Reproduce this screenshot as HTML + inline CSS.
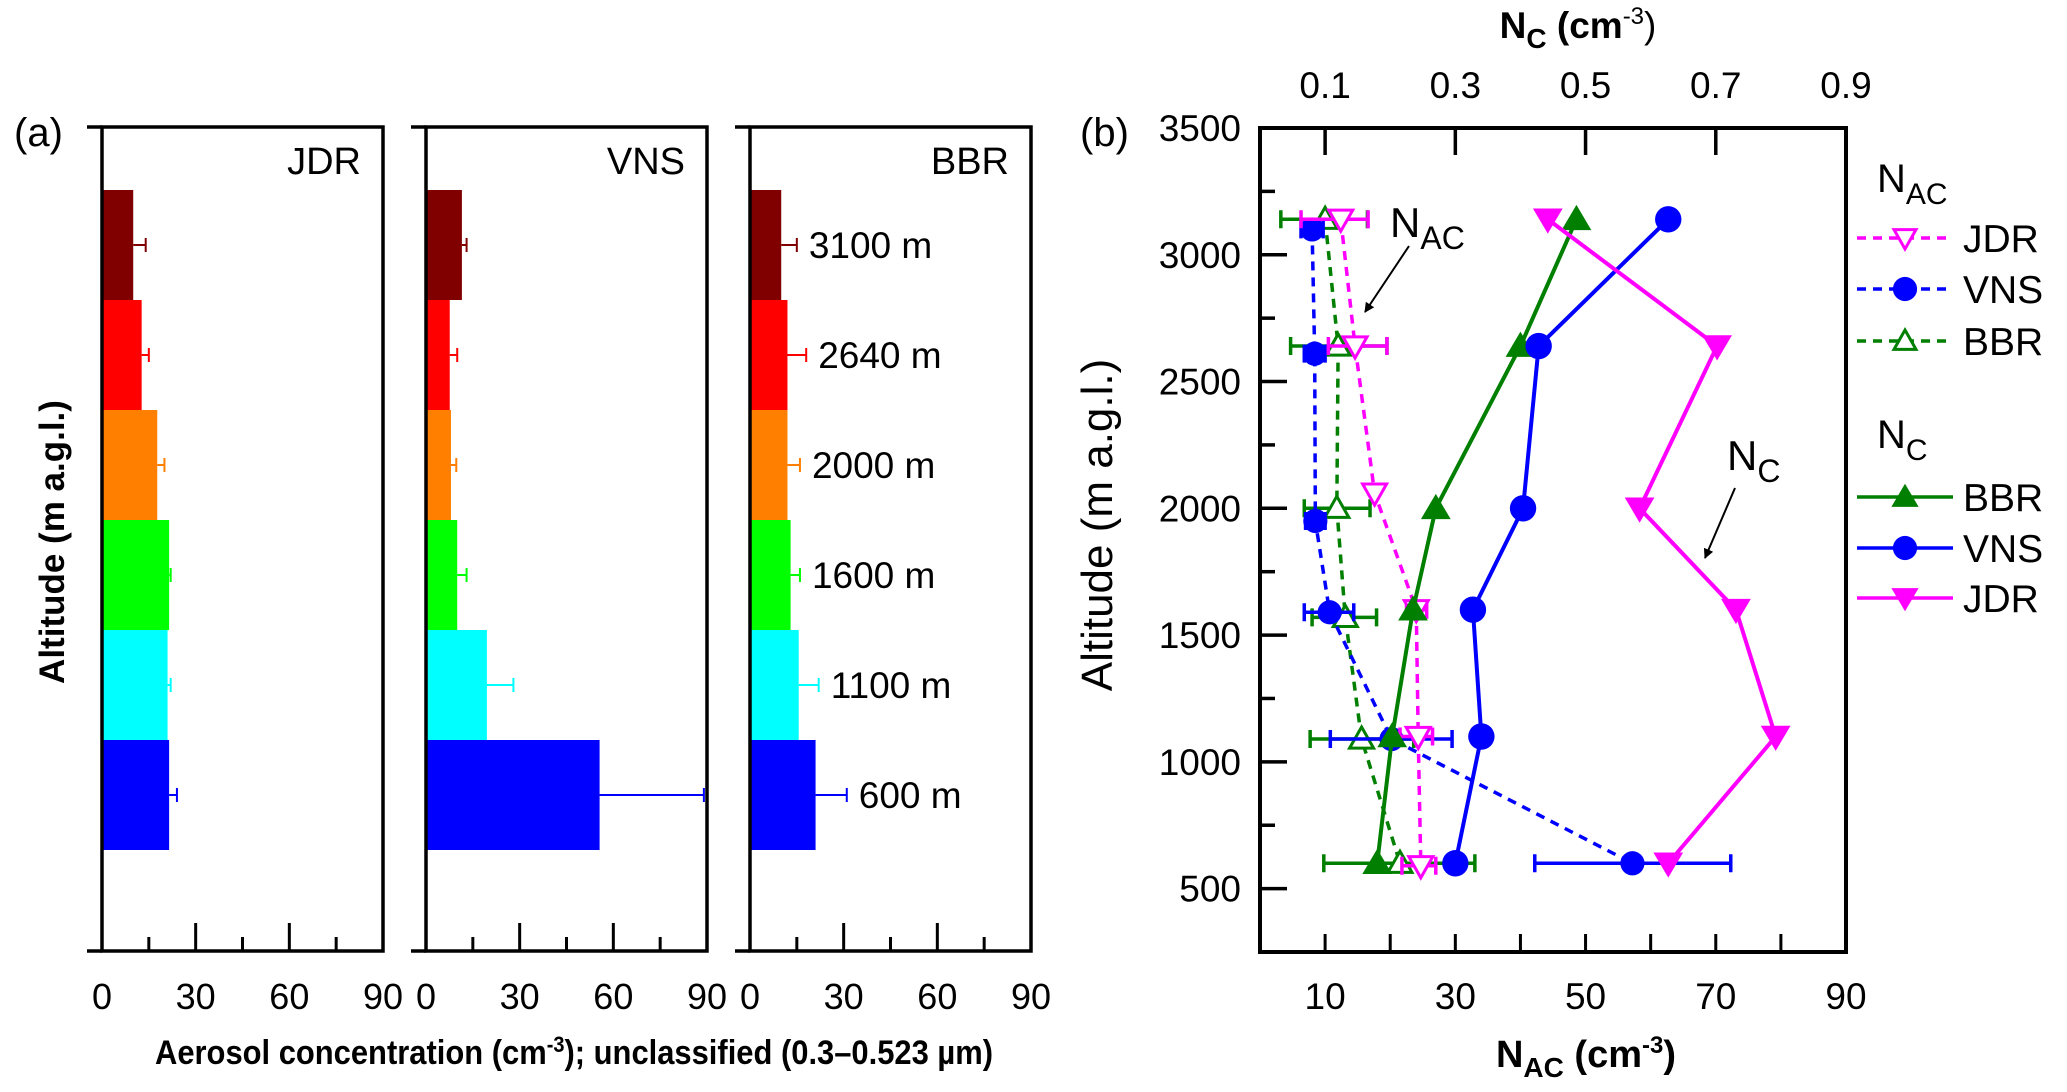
<!DOCTYPE html>
<html><head><meta charset="utf-8"><title>Aerosol concentration charts</title>
<style>
html,body{margin:0;padding:0;background:#fff;}
svg{display:block;font-family:"Liberation Sans",Arial,sans-serif;}
</style></head>
<body>
<svg id="fig" width="2067" height="1092" viewBox="0 0 2067 1092" xmlns="http://www.w3.org/2000/svg">
<defs>
<marker id="arr" markerWidth="10" markerHeight="10" refX="9" refY="5" orient="auto" markerUnits="userSpaceOnUse" viewBox="0 0 10 10"><path d="M0,0 L10,5 L0,10 z" fill="#000"/></marker>
</defs>
<g id="panelA"></g>
<g id="panelB"></g>
</svg>
<script>
// ---------- Panel (a) data ----------
const altCats = ["3100 m","2640 m","2000 m","1600 m","1100 m","600 m"];
const barColors = ["#800000","#ff0000","#ff8000","#00ff00","#00ffff","#0000ff"];
const jdrBars = [10, 12.7, 17.7, 21.5, 21, 21.5];
const jdrErr  = [14, 15, 20, 22, 22, 24];
const vnsBars = [11.5, 7.6, 8, 10, 19.5, 55.6];
const vnsErr  = [13, 10, 9.7, 13, 28, 89];
const bbrBars = [10, 12, 12, 13, 15.6, 21];
const bbrErr  = [15, 18, 16, 16, 22, 31];
const aTicks = [0, 30, 60, 90];

// ---------- Panel (b) data ----------
const bAltTicks = [500,1000,1500,2000,2500,3000,3500];
const bXTicks = [10,30,50,70,90];
const bTopTicks = ["0.1","0.3","0.5","0.7","0.9"];
const nacJdrAlt = [3140,2640,2060,1600,1100,590];
const nacJdrVal = [12.4,14.6,17.6,24,24.3,24.7];
const nacJdrLo  = [6.3,10.5,17.6,22.5,21.5,21.8];
const nacJdrHi  = [16.6,19.5,17.6,25.6,26.5,27];
const nacVnsAlt = [3100,2610,1950,1590,1090,600];
const nacVnsVal = [8,8.4,8.5,10.7,20.2,57.2];
const nacVnsLo  = [6.3,6.8,7,6.8,10.8,42.2];
const nacVnsHi  = [9.7,10,10,14.4,29.5,72.3];
const nacBbrAlt = [3140,2640,2000,1570,1090,600];
const nacBbrVal = [10,12,11.8,13.1,15.6,21.5];
const nacBbrLo  = [3.2,4.7,6.8,8,7.7,9.8];
const nacBbrHi  = [16.5,19.5,16.9,17.9,23.6,33];
const ncAlt = [3140,2640,2000,1600,1100,600];
const ncBbr = [48.6,40,27,23.5,20.3,18];
const ncVns = [62.7,42.8,40.4,32.7,34,30];
const ncJdr = [44.2,70.2,58.3,73.1,79.2,62.7];

const NS="http://www.w3.org/2000/svg";
function mk(parent, tag, attrs, text){
  const e=document.createElementNS(NS,tag);
  for(const k in attrs) e.setAttribute(k,attrs[k]);
  if(text!==undefined) e.textContent=text;
  parent.appendChild(e); return e;
}

// ---------- Panel (a) ----------
const A=document.getElementById('panelA');
const aTop=127, aBot=951, aW=281, barTop0=190, barH=110;
const panels=[{x:102,name:"JDR",vals:jdrBars,err:jdrErr},{x:426,name:"VNS",vals:vnsBars,err:vnsErr},{x:750,name:"BBR",vals:bbrBars,err:bbrErr}];
panels.forEach((p,pi)=>{
  const g=mk(A,'g',{});
  
  
  const xs=v=>p.x+v/90*aW;
  p.vals.forEach((v,i)=>{
    const y=barTop0+i*barH;
    const r=mk(g,'rect',{x:p.x,y:y,width:xs(v)-p.x,height:barH,fill:barColors[i]});
    
    
    const ey=y+barH/2;
    const eb=mk(g,'path',{d:`M${xs(v)},${ey} H${xs(p.err[i])} M${xs(p.err[i])},${ey-7} V${ey+7}`,stroke:barColors[i],'stroke-width':2,fill:'none'});
    
    
    if(pi===2){
      const t=mk(g,'text',{x:xs(p.err[i])+12,y:ey+13,'font-size':37},altCats[i]);
      
      
    }
  });
  const fr=mk(g,'rect',{x:p.x,y:aTop,width:aW,height:aBot-aTop,fill:'none',stroke:'#000','stroke-width':3.5});
  
  
  mk(g,'path',{d:`M${p.x-15},${aTop} H${p.x} M${p.x-15},${aBot} H${p.x}`,stroke:'#000','stroke-width':3.5});
  for(let v=0;v<=90;v+=15){
    const len=(v%30===0)?28:14;
    mk(g,'line',{x1:xs(v),x2:xs(v),y1:aBot,y2:aBot-len,stroke:'#000','stroke-width':3});
  }
  aTicks.forEach(v=>{
    const t=mk(g,'text',{x:xs(v),y:1009,'font-size':36,'text-anchor':'middle'},String(v));
    
    
  });
  const st=mk(g,'text',{x:p.x+aW-22,y:174,'font-size':38,'text-anchor':'end'},p.name);
  
  
});
let t;
t=mk(A,'text',{x:14,y:146,'font-size':40},'(a)');


t=mk(A,'text',{x:0,y:0,'font-size':35,'font-weight':'bold','text-anchor':'middle',transform:'translate(64,542) rotate(-90)'},'Altitude (m a.g.l.)');


t=mk(A,'text',{x:155,y:1064,'font-size':34,'font-weight':'bold',textLength:838,lengthAdjust:'spacingAndGlyphs'});


t.innerHTML='Aerosol concentration (cm<tspan dy="-12" font-size="22">-3</tspan><tspan dy="12">); unclassified (0.3–0.523 µm)</tspan>';

// ---------- Panel (b) ----------
const B=document.getElementById('panelB');
const L=1260,R=1846,T=128,Bt=952;
const bx=v=>L+v/90*(R-L);
const by=a=>Bt-(a-250)/3250*(Bt-T);
for(let a=250;a<=3500;a+=250){
  const len=(a%500===0)?27:15;
  mk(B,'line',{x1:L,x2:L+len,y1:by(a),y2:by(a),stroke:'#000','stroke-width':3.5});
}
for(let v=10;v<=90;v+=10){
  mk(B,'line',{x1:bx(v),x2:bx(v),y1:Bt,y2:Bt-18,stroke:'#000','stroke-width':3});
}
for(let v=10;v<=90;v+=20){
  mk(B,'line',{x1:bx(v),x2:bx(v),y1:T,y2:T+27,stroke:'#000','stroke-width':3.5});
}
bAltTicks.forEach(a=>{
  const e=mk(B,'text',{x:1241,y:by(a)+13,'font-size':37,'text-anchor':'end'},String(a));
  
  
});
bXTicks.forEach(v=>{
  const e=mk(B,'text',{x:bx(v),y:1009,'font-size':37,'text-anchor':'middle'},String(v));
  
  
});
bTopTicks.forEach((s,i)=>{
  const e=mk(B,'text',{x:bx(bXTicks[i]),y:98,'font-size':37,'text-anchor':'middle'},s);
  
  
});

function marker(g,type,x,y,color,s){
  let e;
  if(type==='circle') e=mk(g,'circle',{cx:x,cy:y,r:s*0.55,fill:color});
  else if(type==='up') e=mk(g,'path',{d:`M${x},${y-s*0.6} L${x+s*0.62},${y+s*0.45} L${x-s*0.62},${y+s*0.45} Z`,fill:color});
  else if(type==='down') e=mk(g,'path',{d:`M${x},${y+s*0.6} L${x+s*0.62},${y-s*0.45} L${x-s*0.62},${y-s*0.45} Z`,fill:color});
  else if(type==='upo') e=mk(g,'path',{d:`M${x},${y-s*0.5} L${x+s*0.5},${y+s*0.38} L${x-s*0.5},${y+s*0.38} Z`,fill:'#fff',stroke:color,'stroke-width':3});
  else if(type==='downo') e=mk(g,'path',{d:`M${x},${y+s*0.5} L${x+s*0.5},${y-s*0.38} L${x-s*0.5},${y-s*0.38} Z`,fill:'#fff',stroke:color,'stroke-width':3});
  
  
  return e;
}
function series(name,alts,vals,lo,hi,color,mtype,dashed,ms){
  const g=mk(B,'g',{});
  
  
  const pts=alts.map((a,i)=>bx(vals[i])+','+by(a)).join(' ');
  const pl=mk(g,'polyline',{points:pts,fill:'none',stroke:color,'stroke-width':dashed?3.5:4,'stroke-dasharray':dashed?'9,7':'none'});
  
  
  if(lo){
    alts.forEach((a,i)=>{
      if(hi[i]-lo[i]<0.5) return;
      const y=by(a);
      const eb=mk(g,'path',{d:`M${bx(lo[i])},${y} H${bx(hi[i])} M${bx(lo[i])},${y-9} V${y+9} M${bx(hi[i])},${y-9} V${y+9}`,stroke:color,'stroke-width':3.5,fill:'none'});
      
      
    });
  }
  alts.forEach((a,i)=>marker(g,mtype,bx(vals[i]),by(a),color,ms));
}
series('nac-bbr',nacBbrAlt,nacBbrVal,nacBbrLo,nacBbrHi,'#007f00','upo',true,24);
series('nac-vns',nacVnsAlt,nacVnsVal,nacVnsLo,nacVnsHi,'#0000ff','circle',true,22);
series('nac-jdr',nacJdrAlt,nacJdrVal,nacJdrLo,nacJdrHi,'#ff00ff','downo',true,24);
series('nc-bbr',ncAlt,ncBbr,null,null,'#007f00','up',false,24);
series('nc-vns',ncAlt,ncVns,null,null,'#0000ff','circle',false,24);
series('nc-jdr',ncAlt,ncJdr,null,null,'#ff00ff','down',false,24);

const fb=mk(B,'rect',{x:L,y:T,width:R-L,height:Bt-T,fill:'none',stroke:'#000','stroke-width':4});



t=mk(B,'text',{x:1390,y:237,'font-size':42});
t.innerHTML='N<tspan dy="12" font-size="32">AC</tspan>';


let ar=mk(B,'line',{x1:1409,y1:246,x2:1365,y2:312,stroke:'#000','stroke-width':2,'marker-end':'url(#arr)'});


t=mk(B,'text',{x:1727,y:470,'font-size':42});
t.innerHTML='N<tspan dy="12" font-size="32">C</tspan>';


ar=mk(B,'line',{x1:1735,y1:488,x2:1705,y2:558,stroke:'#000','stroke-width':2,'marker-end':'url(#arr)'});



const leg=mk(B,'g',{});


t=mk(leg,'text',{x:1877,y:192,'font-size':40});
t.innerHTML='N<tspan dy="12" font-size="30">AC</tspan>';


t=mk(leg,'text',{x:1877,y:448,'font-size':40});
t.innerHTML='N<tspan dy="12" font-size="30">C</tspan>';


const legItems=[
 {y:238,label:'JDR',c:'#ff00ff',m:'downo',d:true},
 {y:289,label:'VNS',c:'#0000ff',m:'circle',d:true},
 {y:341,label:'BBR',c:'#007f00',m:'upo',d:true},
 {y:497,label:'BBR',c:'#007f00',m:'up',d:false},
 {y:548,label:'VNS',c:'#0000ff',m:'circle',d:false},
 {y:598,label:'JDR',c:'#ff00ff',m:'down',d:false}];
legItems.forEach(it=>{
  const g=mk(leg,'g',{});
  
  
  mk(g,'line',{x1:1857,x2:1953,y1:it.y,y2:it.y,stroke:it.c,'stroke-width':3.5,'stroke-dasharray':it.d?'9,7':'none'});
  marker(g,it.m,1905,it.y,it.c,22);
  const tt=mk(g,'text',{x:1963,y:it.y+14,'font-size':39},it.label);
  
  
});

t=mk(B,'text',{x:1080,y:146,'font-size':40},'(b)');


t=mk(B,'text',{x:0,y:0,'font-size':44,'text-anchor':'middle',transform:'translate(1112,525) rotate(-90)'},'Altitude (m a.g.l.)');


t=mk(B,'text',{x:1586,y:1067,'font-size':38,'font-weight':'bold','text-anchor':'middle'});
t.innerHTML='N<tspan dy="10" font-size="28">AC</tspan><tspan dy="-10"> (cm</tspan><tspan dy="-14" font-size="24">-3</tspan><tspan dy="14">)</tspan>';


t=mk(B,'text',{x:1578,y:38,'font-size':37,'font-weight':'bold','text-anchor':'middle'});
t.innerHTML='N<tspan dy="10" font-size="28">C</tspan><tspan dy="-10"> (cm</tspan><tspan dy="-14" font-size="24" font-weight="normal">-3</tspan><tspan dy="14" font-weight="normal">)</tspan>';


</script>
</body></html>
